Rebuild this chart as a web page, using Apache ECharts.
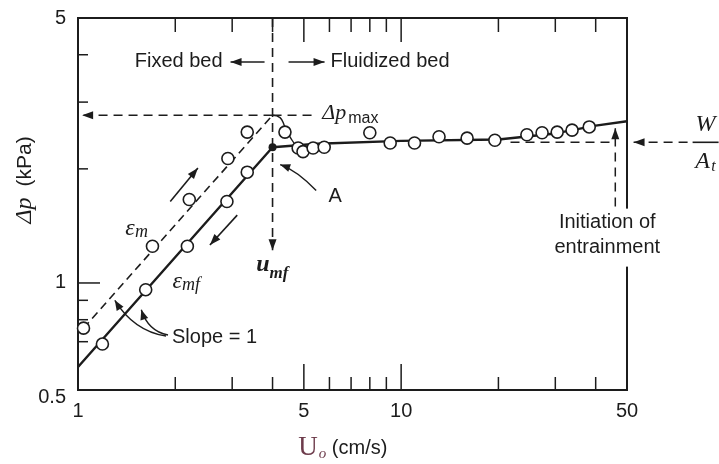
<!DOCTYPE html>
<html>
<head>
<meta charset="utf-8">
<title>Pressure drop vs superficial velocity</title>
<script src="https://cdn.jsdelivr.net/npm/echarts@6/dist/echarts.min.js"></script>
<style>
  html, body { margin: 0; padding: 0; background: #fff; }
  #chart { width: 719px; height: 464px; }
</style>
</head>
<body>
<div id="chart"></div>
<script>
// axis ranges and ticks (log-log)
var xMin = 1, xMax = 50;
var yMin = 0.522, yMax = 5;
var xMinorTicks = [2, 3, 4, 6, 7, 8, 9, 20, 30, 40];
var xMajorTicks = [5, 10];
var xTickLabels = [1, 5, 10, 50];
var yMinorTicks = [0.7, 0.8, 0.9, 2, 3, 4];
var yMajorTicks = [1];
var yTickLabels = [0.5, 1, 5];

// fixed bed, decreasing velocity (eps_mf branch): U0 cm/s, dp kPa
var mfU  = [1.19, 1.62, 2.18, 2.89, 3.34];
var mfDp = [0.69, 0.96, 1.25, 1.64, 1.96];
// fixed bed, increasing velocity (eps_m branch)
var mU  = [1.04, 1.70, 2.21, 2.91, 3.34];
var mDp = [0.76, 1.25, 1.66, 2.13, 2.50];
// fluidized bed readings
var fbU  = [4.37, 4.80, 4.97, 5.34, 5.78, 8.0, 9.25, 11.0, 13.1, 16.0, 19.5, 24.5, 27.3, 30.4, 33.8, 38.2];
var fbDp = [2.50, 2.27, 2.22, 2.27, 2.28, 2.49, 2.34, 2.34, 2.43, 2.41, 2.38, 2.46, 2.49, 2.50, 2.53, 2.58];

// drawn curves
var bedLineU  = [1, 4.0, 5.5, 10, 20, 30, 40, 50];
var bedLineDp = [0.60, 2.28, 2.33, 2.37, 2.39, 2.48, 2.60, 2.67];
var mLineU  = [1.04, 4.0];
var mLineDp = [0.76, 2.77];
var dropU  = [4.0, 4.22, 4.37, 4.53, 4.80, 5.0];
var dropDp = [2.77, 2.73, 2.58, 2.43, 2.27, 2.24];
var pointA = [4.0, 2.28];

// reference levels
var uMf = 4.0, dpMax = 2.77, wAt = 2.35, uEntrain = 46;

var ink = '#1c1c1c';
var sans = '"Liberation Sans", Arial, sans-serif';
var serif = '"Liberation Serif", "Times New Roman", serif';

function zip(a, b) {
  return a.map(function (v, i) { return [v, b[i]]; });
}

function seg(p, q, w, dash) {
  return { type: 'line', shape: { x1: p[0], y1: p[1], x2: q[0], y2: q[1] },
    style: { stroke: ink, lineWidth: w || 1.5, lineDash: dash || null } };
}
function head(tip, from, len, half) {
  var dx = tip[0] - from[0], dy = tip[1] - from[1];
  var d = Math.sqrt(dx * dx + dy * dy), ux = dx / d, uy = dy / d;
  var bx = tip[0] - ux * len, by = tip[1] - uy * len;
  return { type: 'polygon', shape: { points: [[tip[0], tip[1]], [bx - uy * half, by + ux * half], [bx + uy * half, by - ux * half]] },
    style: { fill: ink } };
}
function arrow(from, to, w, dash) {
  return [seg(from, to, w, dash), head(to, from, 11, 4)];
}
function curveArrow(from, ctrl, to) {
  return [{ type: 'bezierCurve', shape: { x1: from[0], y1: from[1], cpx1: ctrl[0], cpy1: ctrl[1], x2: to[0], y2: to[1] },
    style: { stroke: ink, lineWidth: 1.4, fill: null } }, head(to, ctrl, 10, 4)];
}
function txt(s, x, y, opt) {
  opt = opt || {};
  return { type: 'text', x: x, y: y, rotation: opt.rotation || 0,
    style: { text: s, fill: opt.fill || ink, fontSize: opt.size || 20, fontFamily: opt.family || sans,
      fontStyle: opt.italic ? 'italic' : 'normal', fontWeight: opt.weight || 'normal',
      align: opt.align || 'center', verticalAlign: 'middle', rich: opt.rich } };
}

function renderAxes(params, api) {
  var k = [];
  xMinorTicks.forEach(function (v) {
    var b = api.coord([v, yMin]), t = api.coord([v, yMax]);
    k.push(seg(b, [b[0], b[1] - 13]), seg(t, [t[0], t[1] + 14]));
  });
  xMajorTicks.forEach(function (v) {
    var b = api.coord([v, yMin]), t = api.coord([v, yMax]);
    k.push(seg(b, [b[0], b[1] - 26]), seg(t, [t[0], t[1] + 24]));
  });
  yMinorTicks.forEach(function (v) {
    var p = api.coord([xMin, v]);
    k.push(seg(p, [p[0] + 10, p[1]]));
  });
  yMajorTicks.forEach(function (v) {
    var p = api.coord([xMin, v]);
    k.push(seg(p, [p[0] + 22, p[1]]));
  });
  xTickLabels.forEach(function (v) {
    var p = api.coord([v, yMin]);
    k.push(txt(String(v), p[0], p[1] + 21));
  });
  yTickLabels.forEach(function (v) {
    var p = api.coord([xMin, v]);
    k.push(txt(String(v), p[0] - 12, p[1], { align: 'right' }));
  });
  // axis titles
  var yc = api.coord([xMin, 1.87]);
  k.push(txt('{d|Δp}  {k|(kPa)}', 25, yc[1], { rotation: Math.PI / 2,
    rich: { d: { fontFamily: serif, fontStyle: 'italic', fontSize: 24, fill: ink },
            k: { fontFamily: sans, fontSize: 21, fill: ink } } }));
  var xc = api.coord([6.6, yMin]);
  k.push(txt('{u|U}{o|o} {c|(cm/s)}', xc[0], xc[1] + 58, {
    rich: { u: { fontFamily: serif, fontSize: 27, fill: '#6d3b4b' },
            o: { fontFamily: serif, fontStyle: 'italic', fontSize: 15, fill: '#6d3b4b', padding: [12, 0, 0, 1] },
            c: { fontFamily: sans, fontSize: 20, fill: ink } } }));
  return { type: 'group', children: k };
}

function renderNotes(params, api) {
  var k = [];
  var dash = [9, 6];
  // u_mf divider and bed regime labels
  var top = api.coord([uMf, yMax]), bot = api.coord([uMf, 1.22]);
  k = k.concat(arrow(top, bot, 1.6, dash));
  k.push(txt('u', bot[0] - 3, bot[1] + 15, { family: serif, italic: true, size: 24, align: 'right', weight: 'bold' }));
  k.push(txt('mf', bot[0] - 3, bot[1] + 23, { family: serif, italic: true, size: 17, align: 'left', weight: 'bold' }));
  var r = api.coord([uMf, 3.83]);
  k = k.concat(arrow([r[0] - 8, r[1]], [r[0] - 42, r[1]], 1.5));
  k.push(txt('Fixed bed', r[0] - 50, r[1], { align: 'right' }));
  k = k.concat(arrow([r[0] + 16, r[1]], [r[0] + 52, r[1]], 1.5));
  k.push(txt('Fluidized bed', r[0] + 58, r[1], { align: 'left' }));

  // dp_max level
  var pk = api.coord([uMf, dpMax]), pl = api.coord([1.03, dpMax]), pr = api.coord([5.5, dpMax]);
  k = k.concat(arrow(pk, pl, 1.5, dash));
  k.push(seg(pk, pr, 1.5, dash));
  k.push(txt('Δp', pr[0] + 5, pr[1] - 2, { family: serif, italic: true, size: 22, align: 'left' }));
  k.push(txt('max', pr[0] + 31, pr[1] + 3, { size: 16, align: 'left' }));

  // W/A_t level
  var wi = api.coord([21.8, wAt]), we = api.coord([uEntrain, wAt]);
  k.push(seg(wi, we, 1.5, dash));
  var wo = api.coord([77, wAt]), wt = api.coord([52.4, wAt]);
  k = k.concat(arrow(wo, wt, 1.6, dash));
  k.push(seg([wo[0] + 5, wo[1]], [wo[0] + 31, wo[1]], 1.6));
  k.push(txt('W', wo[0] + 18, wo[1] - 18, { family: serif, italic: true, size: 24 }));
  k.push(txt('A', wo[0] + 15, wo[1] + 19, { family: serif, italic: true, size: 24 }));
  k.push(txt('t', wo[0] + 26, wo[1] + 24, { family: serif, italic: true, size: 16 }));

  // initiation of entrainment
  var eb = api.coord([uEntrain, 1.59]), et = api.coord([uEntrain, 2.56]);
  k = k.concat(arrow(eb, et, 1.5, dash));
  var rb = api.coord([xMax, 1.59]);
  k.push({ type: 'rect', shape: { x: rb[0] - 6, y: eb[1] + 2, width: 12, height: 58 }, style: { fill: '#fff' } });
  k.push(txt('Initiation of', eb[0] - 8, eb[1] + 16));
  k.push(txt('entrainment', eb[0] - 8, eb[1] + 41));

  // direction arrows along the branches
  k = k.concat(arrow(api.coord([1.93, 1.64]), api.coord([2.35, 2.01]), 1.6));
  k = k.concat(arrow(api.coord([3.11, 1.51]), api.coord([2.56, 1.26]), 1.6));

  // branch labels
  var em = api.coord([1.50, 1.39]);
  k.push(txt('ε', em[0] - 5, em[1], { family: serif, italic: true, size: 24 }));
  k.push(txt('m', em[0], em[1] + 4, { family: serif, italic: true, size: 18, align: 'left' }));
  var emf = api.coord([2.10, 1.01]);
  k.push(txt('ε', emf[0] - 5, emf[1], { family: serif, italic: true, size: 24 }));
  k.push(txt('mf', emf[0], emf[1] + 4, { family: serif, italic: true, size: 18, align: 'left' }));

  // point A
  var la = api.coord([6.25, 1.69]);
  k.push(txt('A', la[0], la[1]));
  k = k.concat(curveArrow([la[0] - 19, la[1] - 6], [la[0] - 38, la[1] - 26], [la[0] - 55, la[1] - 32]));

  // slope = 1
  var sl = api.coord([1.954, 0.72]);
  k.push(txt('Slope = 1', sl[0], sl[1], { align: 'left' }));
  k = k.concat(curveArrow([sl[0] - 6, sl[1] - 1], [sl[0] - 38, sl[1] - 6], api.coord([1.30, 0.90])));
  k = k.concat(curveArrow([sl[0] - 4, sl[1] - 2], [sl[0] - 24, sl[1] - 6], api.coord([1.57, 0.85])));

  return { type: 'group', children: k };
}

var circleStyle = { color: '#fff', borderColor: ink, borderWidth: 1.6, opacity: 1 };

var chart = echarts.init(document.getElementById('chart'));
chart.setOption({
  backgroundColor: '#fff',
  animation: false,
  grid: { left: 78, right: 92, top: 18, bottom: 74, show: true, borderColor: ink, borderWidth: 2 },
  xAxis: { type: 'log', logBase: 10, min: xMin, max: xMax,
    axisLine: { show: false }, axisTick: { show: false }, axisLabel: { show: false }, splitLine: { show: false } },
  yAxis: { type: 'log', logBase: 10, min: yMin, max: yMax,
    axisLine: { show: false }, axisTick: { show: false }, axisLabel: { show: false }, splitLine: { show: false } },
  series: [
    { name: 'bed', type: 'line', data: zip(bedLineU, bedLineDp), showSymbol: false, silent: true,
      lineStyle: { color: ink, width: 2.4 }, z: 3 },
    { name: 'eps_m line', type: 'line', data: zip(mLineU, mLineDp), showSymbol: false, silent: true,
      lineStyle: { color: ink, width: 1.6, type: [8, 5] }, z: 3 },
    { name: 'drop', type: 'line', data: zip(dropU, dropDp), showSymbol: false, smooth: true, silent: true,
      lineStyle: { color: ink, width: 1.4 }, z: 3 },
    { name: 'eps_mf', type: 'scatter', data: zip(mfU, mfDp), symbol: 'circle', symbolSize: 12,
      itemStyle: circleStyle, z: 4 },
    { name: 'eps_m', type: 'scatter', data: zip(mU, mDp), symbol: 'circle', symbolSize: 12,
      itemStyle: circleStyle, z: 4 },
    { name: 'fluidized', type: 'scatter', data: zip(fbU, fbDp), symbol: 'circle', symbolSize: 12,
      itemStyle: circleStyle, z: 4 },
    { name: 'A', type: 'scatter', data: [pointA], symbol: 'circle', symbolSize: 8,
      itemStyle: { color: ink, opacity: 1 }, z: 5 },
    { name: 'axes', type: 'custom', data: [[xMin, yMin]], renderItem: renderAxes, silent: true, z: 6 },
    { name: 'notes', type: 'custom', data: [[xMin, yMin]], renderItem: renderNotes, silent: true, z: 7 }
  ]
});
</script>
</body>
</html>
